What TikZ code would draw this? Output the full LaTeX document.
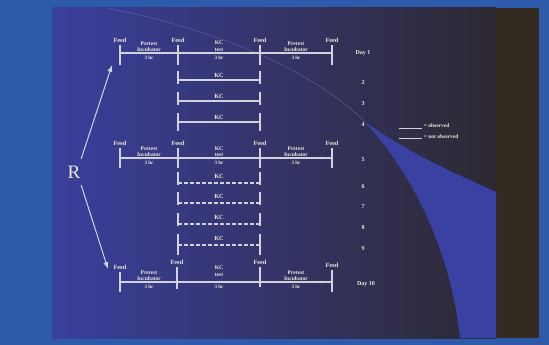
\documentclass[tikz,border=0pt]{standalone}
\usepackage{fontspec}
\setmainfont{Liberation Serif}
\usetikzlibrary{arrows.meta}

\definecolor{ink}{HTML}{ECE8D6}
\definecolor{rule}{HTML}{D2D2DE}
\definecolor{slide}{HTML}{2D5AAA}
\definecolor{panelblue}{HTML}{3B3F9E}
\definecolor{paneldark}{HTML}{2D2932}
\definecolor{wedge}{HTML}{3942A2}
\definecolor{strip}{HTML}{332A22}

\begin{document}
\begin{tikzpicture}[x=1pt, y=-1pt,
	every node/.style={font=\bfseries\fontsize{6.3}{7}\selectfont, text=ink, inner sep=0.6pt},
	bar/.style={draw=rule, line width=1.2pt},
	dbar/.style={bar, dash pattern=on 3.6pt off 2.4pt},
	seglabel/.style={align=center, font=\bfseries\fontsize{5.6}{10}\selectfont},
	hrlabel/.style={font=\bfseries\fontsize{5}{5.5}\selectfont},
	daylabel/.style={font=\bfseries\fontsize{6}{7}\selectfont},
	>={Latex[length=2.4mm, width=1.8mm]}]
	\useasboundingbox (0,0) rectangle (549,345);
	% slide background
	\fill[slide] (0,0) rectangle (549,345);
	\fill[strip] (52,8) rectangle (539,338);
	\shade[left color=panelblue, middle color=panelblue!55!paneldark, right color=paneldark] (52,8) rectangle (496,338);
	\fill[wedge] (365,122) .. controls (420,160) and (460,175) .. (496,192) -- (496,338) -- (460,338) .. controls (452,262) and (420,182) .. (365,122) -- cycle;
	\draw[wedge!70!white, line width=0.5pt, opacity=0.6] (107,8) .. controls (220,30) and (315,72) .. (365,122);
	% day 1
	\foreach \c/\x in {1/120, 2/178, 3/260, 4/332} {
		\coordinate (a\c) at (\x,53);
		\draw[bar] (\x,45) -- (\x,65);
		\node[anchor=south] (fa\c) at (\x,43) {Feed};
	}
	\draw[bar] (a1) -- (a4);
	\node[seglabel, anchor=south] (pa1) at (149,52) {Pretest\\[-4.5pt]Incubator};
	\node[seglabel, anchor=south] (ka) at (219,52) {KC\\[-3pt]test};
	\node[seglabel, anchor=south] (pa2) at (296,52) {Pretest\\[-4.5pt]Incubator};
	\foreach \x in {149, 219, 296} \node[hrlabel, anchor=north] at (\x,55) {3 hr};
	\node[daylabel] (d1) at (363,53) {Day 1};
	% days 2-4
	\foreach \n/\y in {2/80, 3/101, 4/122} {
		\coordinate (b\n l) at (178,\y);
		\coordinate (b\n r) at (260,\y);
		\draw[bar] (b\n l) -- (b\n r);
		\draw[bar] (178,\y-9) -- (178,\y+4) (260,\y-9) -- (260,\y+4);
		\node[anchor=south] (kb\n) at (219,\y-1.5) {KC};
		\node[daylabel] (d\n) at (363,\y+3) {\n};
	}
	\draw[bar] (178,126) -- (178,131) (260,126) -- (260,131);
	% day 5
	\foreach \c/\x in {1/120, 2/178, 3/260, 4/332} {
		\coordinate (e\c) at (\x,158);
		\draw[bar] (\x,148) -- (\x,168);
		\node[anchor=south] (fe\c) at (\x,146) {Feed};
	}
	\draw[bar] (e1) -- (e4);
	\node[seglabel, anchor=south] (pe1) at (149,157) {Pretest\\[-4.5pt]Incubator};
	\node[seglabel, anchor=south] (ke) at (219,157) {KC\\[-4.5pt]test};
	\node[seglabel, anchor=south] (pe2) at (296,157) {Pretest\\[-4.5pt]Incubator};
	\foreach \x in {149, 219, 296} \node[hrlabel, anchor=north] at (\x,160) {3 hr};
	\node[daylabel] (d5) at (363,160) {5};
	% days 6-9
	\foreach \n/\y in {6/183, 7/203, 8/224, 9/245} {
		\coordinate (g\n l) at (178,\y);
		\coordinate (g\n r) at (260,\y);
		\draw[dbar] (g\n l) -- (g\n r);
		\draw[bar] (178,\y-11) -- (178,\y+2) (260,\y-11) -- (260,\y+2);
		\node[anchor=south] (kg\n) at (219,\y-3.5) {KC};
		\node[daylabel] (d\n) at (363,\y+4) {\n};
	}
	\draw[bar] (178,247) -- (178,255) (260,247) -- (260,255);
	% day 10
	\foreach \c/\x/\t/\b in {1/120/272/292, 2/177/267/289, 3/260/267/287, 4/332/270/292} {
		\coordinate (j\c) at (\x,282);
		\draw[bar] (\x,\t) -- (\x,\b);
		\node[anchor=south] (fj\c) at (\x,\t-2) {Feed};
	}
	\draw[bar] (j1) -- (j4);
	\node[seglabel, anchor=south] (pj1) at (149,281) {Pretest\\[-4.5pt]Incubator};
	\node[seglabel, anchor=south] (kj) at (219,277) {KC\\[-3.5pt]test};
	\node[seglabel, anchor=south] (pj2) at (296,281) {Pretest\\[-4.5pt]Incubator};
	\foreach \x in {149, 219, 296} \node[hrlabel, anchor=north] at (\x,284) {3 hr};
	\node[daylabel] (d10) at (366,284) {Day 10};
	% R and arrows
	\node[font=\fontsize{19}{21}\selectfont] (R) at (74,172) {R};
	\coordinate (up) at (112,65);
	\coordinate (down) at (108,269);
	\draw[->, draw=rule, fill=rule, line width=1pt] ([yshift=6pt]R.north east) -- (up);
	\draw[->, draw=rule, fill=rule, line width=1pt] ([yshift=-6pt]R.south east) -- (down);
	% legend
	\coordinate (la) at (399,128);
	\coordinate (lb) at (422,128);
	\coordinate (lc) at (399,138);
	\coordinate (ld) at (422,138);
	\draw[draw=rule, line width=0.8pt] (la) -- (lb);
	\draw[draw=rule, line width=0.8pt] (lc) -- (ld);
	\node[anchor=west, font=\bfseries\fontsize{5.5}{6}\selectfont] (lo) at (423,126) {= observed};
	\node[anchor=west, font=\bfseries\fontsize{5.5}{6}\selectfont] (ln) at (423,137) {= not observed};
\end{tikzpicture}
\end{document}
